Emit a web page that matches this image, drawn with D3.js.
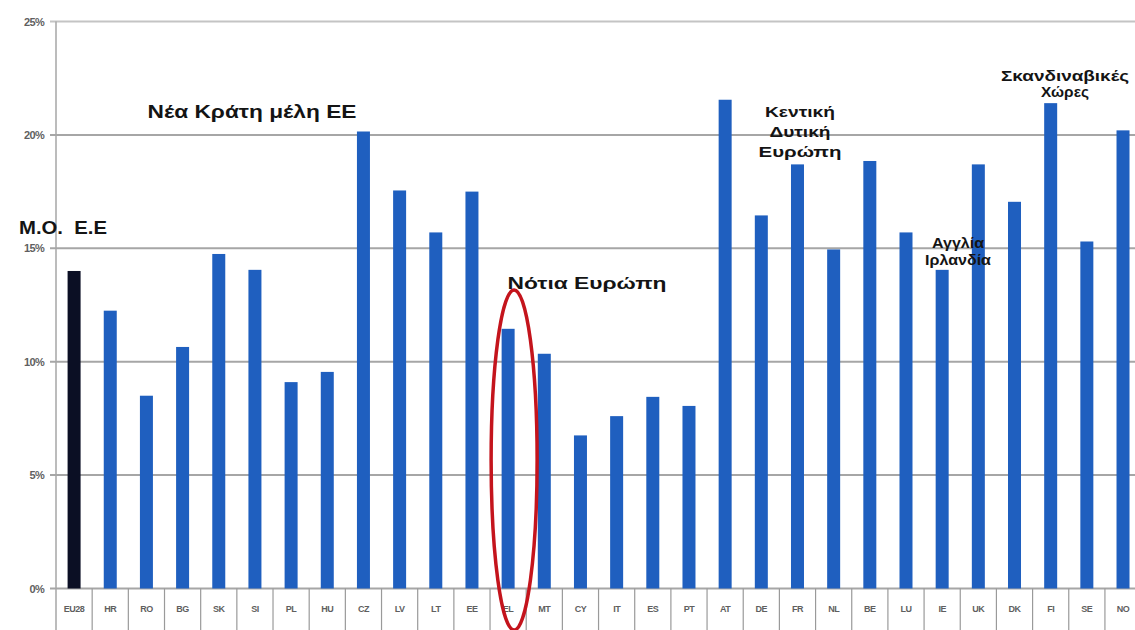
<!DOCTYPE html>
<html>
<head>
<meta charset="utf-8">
<script src="https://cdn.jsdelivr.net/npm/d3@7"></script>
<style>
  html, body { margin: 0; padding: 0; background: #fff; }
  svg { display: block; }
</style>
</head>
<body>
<svg id="chart" width="1135" height="630"></svg>
<script>
// ---- data ----
const categories = ["EU28","HR","RO","BG","SK","SI","PL","HU","CZ","LV","LT","EE","EL","MT","CY","IT","ES","PT","AT","DE","FR","NL","BE","LU","IE","UK","DK","FI","SE","NO"];
const values = [14.0,12.25,8.5,10.65,14.75,14.05,9.1,9.55,20.15,17.55,15.7,17.5,11.45,10.35,6.75,7.6,8.45,8.05,21.55,16.45,18.7,14.95,18.85,15.7,14.05,18.7,17.05,21.4,15.3,20.2];
const yTicks = [0,5,10,15,20,25];
const yTickLabels = ["0%","5%","10%","15%","20%","25%"];
const groupLabels = [
  {lines:["M.O.\u00a0\u00a0E.E"], cat:"EU28"},
  {lines:["Νέα Κράτη μέλη ΕΕ"], cat:"SI"},
  {lines:["Νότια Ευρώπη"], cat:"CY"},
  {lines:["Κεντική","Δυτική","Ευρώπη"], cat:"DE"},
  {lines:["Αγγλία","Ιρλανδία"], cat:"IE"},
  {lines:["Σκανδιναβικές","Χώρες"], cat:"FI"}
];
const highlightCat = "EL";

// ---- layout ----
const svg = d3.select("#chart");
const plotLeft = 56, step = 36.17, plotTop = 21.5, plotBottom = 588.5;
const x = d3.scaleBand().domain(categories).range([plotLeft, plotLeft + step * categories.length]).padding(0);
const y = d3.scaleLinear().domain([0, 25]).range([plotBottom, plotTop]);
const barW = 13;

// gridlines
svg.append("g").selectAll("line").data(yTicks).join("line")
  .attr("x1", 50).attr("x2", 1135)
  .attr("y1", d => y(d)).attr("y2", d => y(d))
  .attr("stroke", d => d === 25 ? "#c4c4c4" : "#a6a6a6")
  .attr("stroke-width", 2);

// y tick labels
svg.append("g").selectAll("text").data(yTicks).join("text")
  .attr("x", 44).attr("y", d => y(d) + 4)
  .attr("text-anchor", "end")
  .attr("font-family", "'Liberation Sans Narrow', 'Liberation Sans', Arial, sans-serif")
  .attr("font-size", 11).attr("font-weight", "bold")
  .attr("fill", "#5f5f5f").attr("letter-spacing", "-0.7")
  .text((d, i) => yTickLabels[i]);

// y axis line
svg.append("line").attr("x1", plotLeft).attr("x2", plotLeft)
  .attr("y1", plotTop).attr("y2", 630).attr("stroke", "#a6a6a6").attr("stroke-width", 1.5);

// category separators
svg.append("g").selectAll("line").data(categories).join("line")
  .attr("x1", d => x(d) + x.bandwidth()).attr("x2", d => x(d) + x.bandwidth())
  .attr("y1", plotBottom).attr("y2", 630)
  .attr("stroke", "#9a9a9a").attr("stroke-width", 1.2);

// category labels
svg.append("g").selectAll("text").data(categories).join("text")
  .attr("x", d => x(d) + x.bandwidth() / 2).attr("y", 612)
  .attr("text-anchor", "middle")
  .attr("font-family", "'Liberation Sans Narrow', 'Liberation Sans', Arial, sans-serif")
  .attr("font-size", 9).attr("font-weight", "bold")
  .attr("fill", "#5f5f5f").attr("letter-spacing", "-0.5")
  .text(d => d);

// bars
svg.append("g").selectAll("rect").data(categories).join("rect")
  .attr("x", d => x(d) + x.bandwidth() / 2 - barW / 2)
  .attr("width", barW)
  .attr("y", (d, i) => y(values[i]))
  .attr("height", (d, i) => y(0) - y(values[i]))
  .attr("fill", (d, i) => i === 0 ? "#0b0f24" : "#1f5fbf");

// group annotations
const annPos = {
  "EU28": {y: 234, size: 19, len: 88, x0: 19},
  "SI":   {y: 118, size: 17.5, len: 209, cx: 252},
  "CY":   {y: 289, size: 16.5, len: 159, cx: 587},
  "DE":   {y: 117, size: 15.5, cx: 800, lh: 20, lens: [70, 61, 83]},
  "IE":   {y: 248, size: 14.5, cx: 958, lh: 17, lens: [52, 66]},
  "FI":   {y: 81, size: 15, cx: 1065, lh: 16, lens: [128, 48]}
};
groupLabels.forEach(g => {
  const p = annPos[g.cat];
  const t = svg.append("text")
    .attr("font-family", "'Liberation Sans', Arial, sans-serif")
    .attr("font-size", p.size)
    .attr("font-weight", "bold")
    .attr("fill", "#141414");
  g.lines.forEach((ln, i) => {
    const ts = t.append("tspan").text(ln)
      .attr("y", p.y + i * (p.lh || 0));
    if (p.x0 !== undefined) {
      ts.attr("x", p.x0);
    } else {
      ts.attr("x", p.cx).attr("text-anchor", "middle");
    }
    const L = p.len || (p.lens && p.lens[i]);
    if (L) ts.attr("textLength", L).attr("lengthAdjust", "spacingAndGlyphs");
  });
});

// highlight ellipse around EL
svg.append("ellipse")
  .attr("cx", x(highlightCat) + x.bandwidth() / 2 + 6)
  .attr("cy", 460).attr("rx", 23).attr("ry", 170)
  .attr("fill", "none").attr("stroke", "#c4141c").attr("stroke-width", 3.5);
</script>
</body>
</html>
